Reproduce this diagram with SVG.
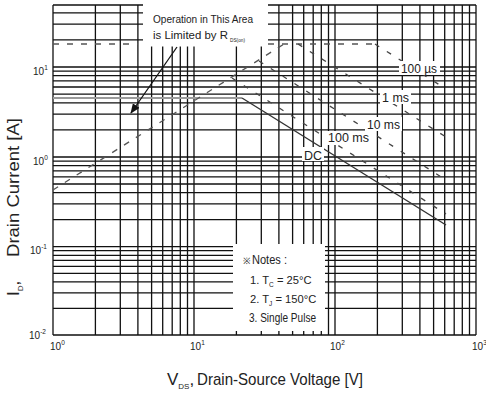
<svg xmlns="http://www.w3.org/2000/svg" width="486" height="397" viewBox="0 0 486 397">
<style>
.g{stroke:#111;stroke-width:1.3;fill:none}
.mask{fill:#fff;stroke:none}
.lim{stroke:#555;stroke-width:1.3;fill:none;stroke-dasharray:6 8}
.pl{stroke:#444;stroke-width:1.3;fill:none;stroke-dasharray:5 9}
.dc{stroke:#333;stroke-width:1.4;fill:none}
.t{font-family:"Liberation Sans",Arial,sans-serif;fill:#222}
.lab{font-size:13.5px}
.tick{font-size:10px}
.sup{font-size:6.5px}
.nt{font-size:13px}
.nl{font-size:11.2px}
.ns{font-size:6.5px}
</style>
<defs>
<marker id="ah" markerWidth="10" markerHeight="8" refX="9" refY="4" orient="auto" markerUnits="userSpaceOnUse">
<path d="M0,0 L10,4 L0,8 Z" fill="#111"/>
</marker>
</defs>
<rect width="486" height="397" fill="#fff"/>
<g id="grid" class="g">
<path d="M53,5V335M476,5V335M53,5H476M53,335H476"/>
<path d="M95.4,5V335M120.3,5V335M137.9,5V335M151.6,5V335M162.7,5V335M172.2,5V335M180.3,5V335M187.5,5V335M194,5V335"/>
<path d="M236.4,5V335M261.3,5V335M278.9,5V335M292.6,5V335M303.7,5V335M313.2,5V335M321.3,5V335M328.5,5V335M335,5V335"/>
<path d="M377.4,5V335M402.3,5V335M419.9,5V335M433.6,5V335M444.7,5V335M454.2,5V335M462.3,5V335M469.5,5V335"/>
<path d="M53,12.8H476M53,24.1H476M53,39.9H476M53,67H476M53,71.1H476M53,75.7H476M53,80.9H476M53,87H476M53,94.1H476M53,102.8H476M53,114.1H476M53,129.9H476"/>
<path d="M53,157H476M53,161.1H476M53,165.7H476M53,170.9H476M53,176.9H476M53,184H476M53,192.7H476M53,203.9H476M53,219.7H476"/>
<path d="M53,246.7H476M53,250.7H476M53,255.3H476M53,260.4H476M53,266.3H476M53,273.3H476M53,281.8H476M53,292.9H476M53,308.4H476"/>
</g>
<g id="gaps">
<rect class="mask" x="143" y="0" width="125" height="46.5"/>
<rect class="mask" x="233" y="244" width="92" height="87"/>
</g>
<g id="connectors">
<line x1="53" y1="98" x2="242" y2="98" stroke="#9a9a9a" stroke-width="2"/>
<line class="lim" x1="53" y1="190" x2="284" y2="44"/>
<line class="lim" x1="53" y1="44" x2="138" y2="44"/>
<line class="lim" x1="268" y1="44" x2="375" y2="44"/>
<line class="pl" x1="375" y1="44" x2="446" y2="89"/>
<line class="pl" x1="298" y1="44" x2="446" y2="137"/>
<line class="pl" x1="259" y1="61" x2="446" y2="180"/>
<line class="pl" x1="232" y1="78" x2="446" y2="214"/>
<line class="dc" x1="242" y1="98" x2="446" y2="225"/>
<line x1="177" y1="47" x2="131" y2="113" stroke="#111" stroke-width="1.3" marker-end="url(#ah)"/>
</g>
<g id="curve-labels">
<rect class="mask" x="399" y="61" width="41" height="14"/>
<text class="t lab" x="401" y="73" textLength="36" lengthAdjust="spacingAndGlyphs">100 µs</text>
<rect class="mask" x="380" y="90" width="31" height="14"/>
<text class="t lab" x="382" y="101.5" textLength="27" lengthAdjust="spacingAndGlyphs">1 ms</text>
<rect class="mask" x="365" y="117" width="37" height="14"/>
<text class="t lab" x="367" y="129" textLength="33" lengthAdjust="spacingAndGlyphs">10 ms</text>
<rect class="mask" x="326" y="131" width="45" height="14"/>
<text class="t lab" x="328" y="142" textLength="41" lengthAdjust="spacingAndGlyphs">100 ms</text>
<rect class="mask" x="302" y="147" width="22" height="14"/>
<text class="t lab" x="304" y="159.5" textLength="18" lengthAdjust="spacingAndGlyphs">DC</text>
</g>
<g id="rds-note">
<text class="t" x="153" y="22.5" font-size="11.5" textLength="100" lengthAdjust="spacingAndGlyphs">Operation in This Area</text>
<text class="t" x="153" y="39" font-size="11.5" textLength="75" lengthAdjust="spacingAndGlyphs">is Limited by R</text>
<text class="t" x="230" y="42" font-size="6" textLength="15" lengthAdjust="spacingAndGlyphs">DS(on)</text>
</g>
<g id="notes">
<text class="t" x="243" y="264" font-size="9" fill="#777">※</text>
<text class="t nt" x="252" y="264" textLength="35" lengthAdjust="spacingAndGlyphs">Notes :</text>
<text class="t nl" x="250" y="284">1. T<tspan class="ns" dy="2.5">C</tspan><tspan dy="-2.5"> = 25°C</tspan></text>
<text class="t nl" x="250" y="303">2. T<tspan class="ns" dy="2.5">J</tspan><tspan dy="-2.5"> = 150°C</tspan></text>
<text class="t nt" x="249" y="322" textLength="67" lengthAdjust="spacingAndGlyphs">3. Single Pulse</text>
</g>
<g id="y-ticks">
<text class="t tick" x="33" y="75">10<tspan class="sup" dy="-5">1</tspan></text>
<text class="t tick" x="33" y="165">10<tspan class="sup" dy="-5">0</tspan></text>
<text class="t tick" x="30" y="254">10<tspan class="sup" dy="-5">-1</tspan></text>
<text class="t tick" x="29" y="339">10<tspan class="sup" dy="-5">-2</tspan></text>
</g>
<g id="x-ticks">
<text class="t tick" x="50" y="350">10<tspan class="sup" dy="-5">0</tspan></text>
<text class="t tick" x="190" y="350">10<tspan class="sup" dy="-5">1</tspan></text>
<text class="t tick" x="330" y="350">10<tspan class="sup" dy="-5">2</tspan></text>
<text class="t tick" x="472" y="350">10<tspan class="sup" dy="-5">3</tspan></text>
</g>
<g id="x-title">
<text class="t" x="167" y="385" font-size="17"><tspan>V</tspan><tspan font-size="8" dy="4">DS</tspan><tspan dy="-4">,</tspan><tspan x="197" textLength="166" lengthAdjust="spacingAndGlyphs">Drain-Source Voltage [V]</tspan></text>
</g>
<g id="y-title">
<text class="t" transform="translate(19,296) rotate(-90)" x="0" y="0" font-size="17"><tspan>I</tspan><tspan font-size="8" dy="4">D</tspan><tspan dy="-4">,</tspan><tspan x="39" textLength="139" lengthAdjust="spacingAndGlyphs">Drain Current [A]</tspan></text>
</g>
</svg>
